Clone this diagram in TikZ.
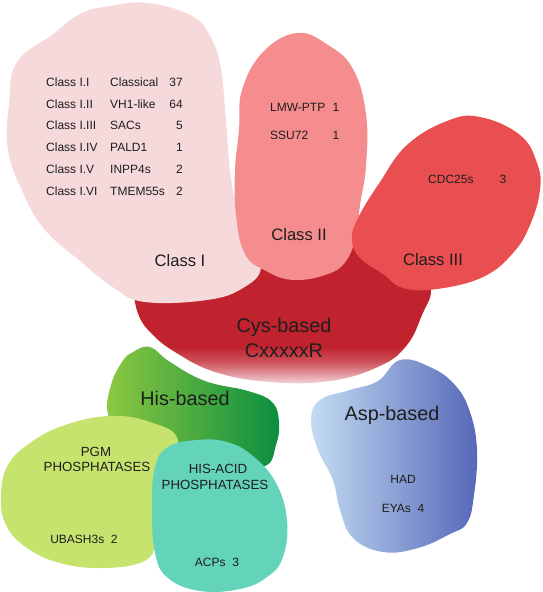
\documentclass[tikz,border=0pt]{standalone}
\usepackage{fontspec}
\setmainfont{Liberation Sans}

\definecolor{classone}{HTML}{F6D9DA}
\definecolor{classtwo}{HTML}{F58C8E}
\definecolor{classthree}{HTML}{E94E50}
\definecolor{cysred}{HTML}{C0222E}
\definecolor{cyspink}{HTML}{F4D8DB}
\definecolor{hislight}{HTML}{8DC840}
\definecolor{hisdark}{HTML}{0A8E40}
\definecolor{pgmgreen}{HTML}{C5E36D}
\definecolor{acidteal}{HTML}{63D4BA}
\definecolor{asplight}{HTML}{C3DCF2}
\definecolor{aspdark}{HTML}{5667B8}
\definecolor{txt}{HTML}{1E1E1E}

\pgfdeclareverticalshading{cysfade}{100bp}{color(0bp)=(cyspink); color(25bp)=(cyspink);
  color(29bp)=(cysred!40!cyspink); color(33bp)=(cysred!75!cyspink); color(38bp)=(cysred);
  color(100bp)=(cysred)}

\tikzset{
  itemtxt/.style={font=\fontsize{12}{14}\selectfont, text=txt, inner sep=0pt, text height=8.6pt, text depth=0pt},
  phostxt/.style={font=\fontsize{13.3}{15}\selectfont, text=txt, inner sep=0pt, text height=9.5pt, text depth=0pt},
  classtxt/.style={font=\fontsize{16.6}{19}\selectfont, text=txt, inner sep=0pt, text height=11.9pt, text depth=0pt},
  basetxt/.style={font=\fontsize{19.8}{23}\selectfont, text=txt, inner sep=0pt, text height=14.2pt, text depth=0pt},
  blob/.style={smooth cycle, tension=0.7}
}

\begin{document}
\begin{tikzpicture}[x=1pt,y=-1pt]
  \useasboundingbox (0,0) rectangle (542,592);

  % Cys-based family and its three classes
  \shade[shading=cysfade] plot[blob] coordinates {(134,292) (139,316) (152,334) (175,352) (215,372)
    (270,382) (330,381) (380,366) (407,345) (422,315) (431,290) (420,270) (380,250) (352,240)
    (300,250) (250,255) (180,272) (140,288)};
  \fill[classone] plot[blob] coordinates {(9,104) (17,62) (52,35) (80,14) (110,6) (148,3) (192,16)
    (211,38) (221,69) (226,121) (232,185) (246,236) (261,267) (243,288) (207,300) (145,302)
    (114,288) (80,261) (45,230) (24,195) (8,150)};
  \fill[classtwo] plot[blob] coordinates {(297,33) (328,45) (353,69) (366,114) (366,166) (360,205)
    (356,236) (346,261) (328,274) (294,280) (266,271) (245,254) (236,215) (235,170) (239,130)
    (242,90) (263,52)};
  \fill[classthree] plot[blob] coordinates {(480,117) (520,135) (537,163) (540,190) (530,225)
    (513,253) (483,277) (437,289) (403,288) (383,274) (360,258) (352,240) (358,218) (380,182)
    (407,145) (447,121)};

  % His-based family
  \shade[left color=hislight, right color=hisdark] plot[blob] coordinates {(133,352) (150,347)
    (170,362) (205,381) (248,391) (272,402) (279,422) (276,445) (265,466) (230,462) (180,455)
    (125,432) (108,414) (111,385) (122,362)};
  \fill[pgmgreen] plot[blob] coordinates {(110,416) (150,422) (178,440) (166,480) (160,520)
    (155,548) (140,563) (100,568) (60,563) (27,548) (6,525) (1,495) (8,465) (30,443) (65,425)};
  \fill[acidteal] plot[blob] coordinates {(197,440) (227,442) (253,456) (276,483) (287,520)
    (283,557) (267,577) (240,589) (200,591) (168,578) (155,553) (152,507) (155,467) (168,447)};

  % Asp-based family
  \shade[left color=asplight, right color=aspdark] plot[blob] coordinates {(400,360) (430,367)
    (455,385) (470,412) (477,450) (474,495) (467,523) (450,534) (418,548) (383,552) (353,538)
    (340,510) (333,480) (318,450) (311,420) (320,400) (350,390) (378,381)};

  % Class I table
  \foreach \sub/\fam/\num [count=\i] in {I/Classical/37, II/VH1-like/64, III/SACs/5,
      IV/PALD1/1, V/INPP4s/2, VI/TMEM55s/2} {%
    \node[itemtxt,anchor=west] (sub\i) at (46,{82+21.8*(\i-1)}) {Class I.\sub};
    \node[itemtxt,anchor=west] (fam\i) at (110,{82+21.8*(\i-1)}) {\fam};
    \node[itemtxt,anchor=east] (num\i) at (183,{82+21.8*(\i-1)}) {\num};
  }
  \node[classtxt] (classI) at (180,261) {Class I};

  % Class II and III
  \node[itemtxt,anchor=west] (lmw) at (270,107) {LMW-PTP};
  \node[itemtxt] (lmwnum) at (336,107) {1};
  \node[itemtxt,anchor=west] (ssu) at (270,135) {SSU72};
  \node[itemtxt] (ssunum) at (336,135) {1};
  \node[classtxt] (classII) at (299,235) {Class II};
  \node[itemtxt,anchor=west] (cdc) at (428,179) {CDC25s};
  \node[itemtxt] (cdcnum) at (503,179) {3};
  \node[classtxt] (classIII) at (433,260) {Class III};

  \node[basetxt] (cys) at (284,325) {Cys-based};
  \node[basetxt] (motif) at (284,350) {CxxxxxR};

  % His-based
  \node[basetxt] (his) at (185,398) {His-based};
  \node[phostxt] (pgm) at (96,452) {PGM};
  \node[phostxt] (pgmphos) at (97,467) {PHOSPHATASES};
  \node[itemtxt] (ubash) at (84,539) {UBASH3s~~2};
  \node[phostxt] (hisacid) at (218,469) {HIS-ACID};
  \node[phostxt] (acidphos) at (215,485) {PHOSPHATASES};
  \node[itemtxt] (acps) at (217,562) {ACPs~~3};

  % Asp-based
  \node[basetxt] (asp) at (392,413) {Asp-based};
  \node[itemtxt] (had) at (403,479) {HAD};
  \node[itemtxt] (eyas) at (403,508) {EYAs~~4};
\end{tikzpicture}
\end{document}
